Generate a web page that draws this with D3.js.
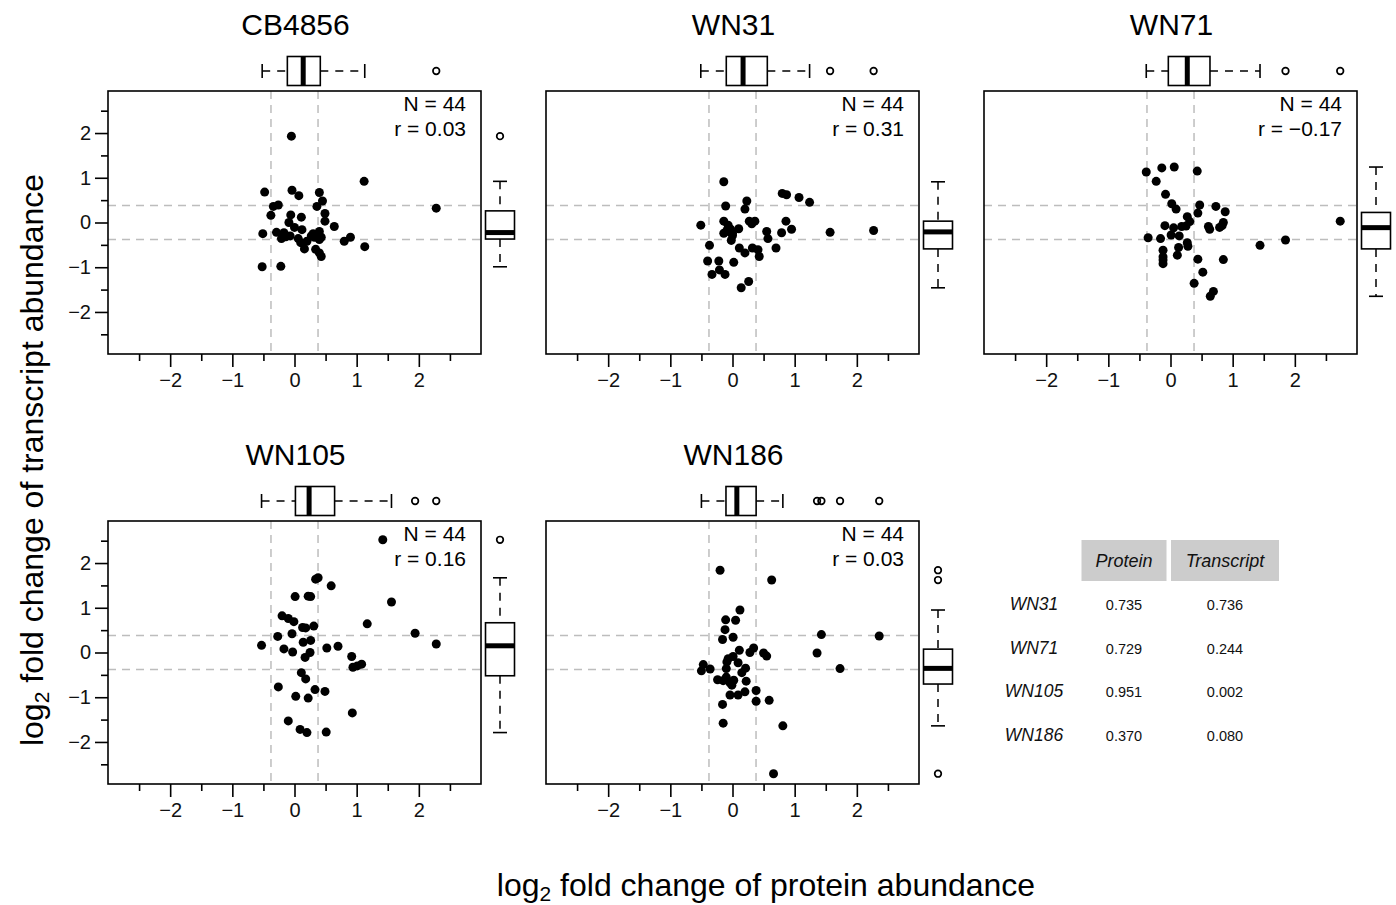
<!DOCTYPE html>
<html>
<head>
<meta charset="utf-8">
<script src="https://cdn.jsdelivr.net/npm/d3@7"></script>
<style>
  body { margin: 0; background: #fff; }
  svg { font-family: "Liberation Sans", Arial, sans-serif; }
</style>
</head>
<body>
<div id="canvas"></div>
<script>
// ---- DATA ----
var strains = ['CB4856', 'WN31', 'WN71', 'WN105', 'WN186'];
var corrR = ['0.03', '0.31', '\u22120.17', '0.16', '0.03'];

// [protein log2FC, transcript log2FC]
var ptsCB4856 = [
  [-0.05,1.93],[1.12,0.92],[2.28,0.32],[-0.48,0.68],[-0.04,0.72],[0.07,0.60],[0.40,0.67],[0.45,0.48],
  [0.36,0.36],[-0.34,0.36],[-0.26,0.39],[-0.38,0.16],[-0.06,0.17],[0.11,0.12],[0.49,0.20],[0.49,0.03],
  [-0.09,0.00],[0.00,-0.11],[0.12,-0.16],[0.64,-0.09],[-0.51,-0.25],[-0.29,-0.22],[-0.17,-0.23],[-0.21,-0.36],
  [-0.07,-0.30],[0.06,-0.36],[0.10,-0.45],[0.16,-0.59],[0.27,-0.30],[0.32,-0.33],[0.40,-0.20],[0.43,-0.33],
  [0.40,-0.38],[0.34,-0.60],[0.40,-0.68],[0.43,-0.76],[0.80,-0.42],[0.90,-0.33],[1.13,-0.54],[-0.52,-0.99],
  [-0.22,-0.98],[0.30,-0.25],[0.20,-0.42],[-0.14,-0.32]
];
var ptsWN31 = [
  [-0.14,0.91],[0.80,0.65],[0.87,0.62],[1.07,0.56],[1.24,0.45],[-0.11,0.37],[0.23,0.48],[0.20,0.30],
  [-0.51,-0.06],[-0.14,0.03],[0.27,0.03],[0.36,0.03],[0.31,-0.03],[0.86,0.03],[0.95,-0.15],[0.55,-0.20],
  [0.79,-0.23],[0.57,-0.36],[0.10,-0.14],[-0.03,-0.15],[-0.09,-0.18],[-0.14,-0.24],[0.00,-0.24],[-0.02,-0.40],
  [-0.37,-0.51],[0.11,-0.57],[0.20,-0.68],[0.32,-0.57],[0.41,-0.61],[0.43,-0.76],[0.70,-0.57],[1.57,-0.22],
  [2.27,-0.18],[-0.40,-0.86],[-0.22,-0.86],[0.02,-0.89],[-0.21,-1.06],[-0.33,-1.16],[-0.12,-1.16],[0.14,-1.46],
  [0.26,-1.32],[-0.06,-0.20],[0.00,-0.29],[-0.07,-0.06]
];
var ptsWN71 = [
  [-0.39,1.13],[-0.14,1.22],[0.06,1.24],[0.43,1.15],[-0.23,0.92],[-0.08,0.63],[0.02,0.42],[0.09,0.30],
  [0.47,0.39],[0.44,0.21],[0.73,0.36],[0.88,0.24],[0.27,0.13],[0.31,0.02],[-0.09,-0.07],[0.05,-0.12],
  [0.18,-0.09],[0.25,-0.08],[0.61,-0.09],[0.63,-0.15],[0.79,-0.11],[0.85,0.00],[0.83,-0.07],[2.73,0.03],
  [-0.36,-0.34],[-0.16,-0.36],[0.01,-0.28],[0.14,-0.30],[0.27,-0.45],[0.28,-0.53],[0.13,-0.56],[-0.12,-0.62],
  [-0.12,-0.77],[-0.12,-0.92],[0.11,-0.73],[1.44,-0.51],[1.85,-0.39],[0.44,-0.82],[0.85,-0.83],[0.52,-1.11],
  [0.38,-1.36],[0.69,-1.54],[0.64,-1.65],[-0.12,-0.84]
];
var ptsWN105 = [
  [1.42,2.52],[0.34,1.64],[0.38,1.67],[0.59,1.49],[0.01,1.25],[0.22,1.26],[0.26,1.25],[1.56,1.13],
  [-0.20,0.82],[-0.10,0.76],[-0.01,0.69],[0.13,0.56],[0.18,0.55],[0.31,0.59],[1.17,0.64],[-0.04,0.42],
  [-0.27,0.36],[1.94,0.43],[-0.53,0.16],[0.14,0.23],[0.26,0.27],[-0.17,0.08],[-0.03,0.01],[0.25,0.00],
  [0.17,-0.11],[0.52,0.10],[0.70,0.14],[2.28,0.19],[0.92,-0.09],[0.94,-0.33],[1.01,-0.30],[1.08,-0.26],
  [0.11,-0.45],[0.18,-0.59],[-0.26,-0.77],[0.33,-0.83],[0.49,-0.87],[0.02,-0.98],[0.22,-1.02],[0.93,-1.35],
  [-0.10,-1.53],[0.09,-1.72],[0.20,-1.79],[0.51,-1.78]
];
var ptsWN186 = [
  [-0.20,1.84],[0.63,1.62],[0.12,0.95],[-0.11,0.73],[0.05,0.72],[-0.12,0.51],[-0.16,0.29],[0.01,0.34],
  [1.43,0.40],[2.36,0.37],[0.11,0.05],[0.28,0.00],[0.34,0.10],[0.50,-0.01],[0.55,-0.08],[1.36,-0.01],
  [0.01,-0.09],[-0.09,-0.21],[0.09,-0.23],[0.21,-0.35],[0.15,-0.45],[-0.47,-0.27],[-0.50,-0.41],[-0.36,-0.37],
  [-0.10,-0.36],[1.73,-0.36],[-0.24,-0.61],[-0.15,-0.63],[-0.04,-0.68],[0.02,-0.62],[-0.01,-0.73],[0.22,-0.64],
  [-0.04,-0.95],[0.09,-0.95],[0.20,-0.88],[0.38,-0.85],[0.38,-1.09],[0.59,-1.07],[-0.16,-1.16],[-0.15,-1.58],
  [0.81,-1.64],[0.66,-2.71],[-0.07,-0.14],[-0.10,-0.55]
];
var allPoints = [ptsCB4856, ptsWN31, ptsWN71, ptsWN105, ptsWN186];

var xTicks = [-2, -1, 0, 1, 2];
var xMinor = [-2.5, -1.5, -0.5, 0.5, 1.5, 2.5];
var yTicks = [-2, -1, 0, 1, 2];
var yMinor = [-2.5, -1.5, -0.5, 0.5, 1.5, 2.5];
var cutoff = Math.log2(1.3); // dashed threshold lines

// table
var tableRows = ['WN31', 'WN71', 'WN105', 'WN186'];
var tableCols = ['Protein', 'Transcript'];
var tableProtein = ['0.735', '0.729', '0.951', '0.370'];
var tableTranscript = ['0.736', '0.244', '0.002', '0.080'];


// ---- CONVENTIONS ----
var W = 1396, H = 905;
var pw = 373, ph = 263;
var origin = {x: 108, y: 91};
var colStep = 438, rowStep = 430;

var svg = d3.select('#canvas')
    .append('svg')
    .attr('width', W)
    .attr('height', H);

// ---- SCALES ----
var scaleX = d3.scaleLinear().domain([-3, 3]).range([0, pw]);
var scaleY = d3.scaleLinear().domain([-2.94, 2.94]).range([ph, 0]);

var fmt = d3.format('d');

// R style boxplot stats (Tukey hinges, 1.5 IQR whiskers)
function boxStats(vals){
    var v = vals.slice().sort(d3.ascending);
    var n = v.length;
    var n4 = Math.floor((n + 3) / 2) / 2;
    var idx = [1, n4, (n + 1) / 2, n + 1 - n4, n];
    var fn = idx.map(function(i){ return 0.5 * (v[Math.floor(i) - 1] + v[Math.ceil(i) - 1]); });
    var iqr = fn[3] - fn[1];
    var lo = fn[1] - 1.5 * iqr, hi = fn[3] + 1.5 * iqr;
    var inside = v.filter(function(d){ return d >= lo && d <= hi; });
    return {
        q1: fn[1], med: fn[2], q3: fn[3],
        wlo: d3.min(inside), whi: d3.max(inside),
        out: v.filter(function(d){ return d < lo || d > hi; })
    };
}

allPoints.forEach(function(pts, i){
    var col = i % 3, row = Math.floor(i / 3);
    var g = svg.append('g')
        .attr('transform', 'translate(' + (origin.x + col * colStep) + ',' + (origin.y + row * rowStep) + ')');

    // threshold lines
    [-cutoff, cutoff].forEach(function(c){
        g.append('line')
            .attr('x1', scaleX(c)).attr('x2', scaleX(c))
            .attr('y1', 0).attr('y2', ph)
            .attr('stroke', '#bdbdbd').attr('stroke-width', 1.5)
            .attr('stroke-dasharray', '8,6');
        g.append('line')
            .attr('x1', 0).attr('x2', pw)
            .attr('y1', scaleY(c)).attr('y2', scaleY(c))
            .attr('stroke', '#bdbdbd').attr('stroke-width', 1.5)
            .attr('stroke-dasharray', '8,6');
    });

    // points
    g.selectAll('circle.pt')
        .data(pts)
        .enter().append('circle')
        .attr('class', 'pt')
        .attr('cx', function(d){ return scaleX(d[0]); })
        .attr('cy', function(d){ return scaleY(d[1]); })
        .attr('r', 4.5)
        .attr('fill', '#000');

    // frame
    g.append('rect')
        .attr('width', pw).attr('height', ph)
        .attr('fill', 'none').attr('stroke', '#000').attr('stroke-width', 1.6);

    // x axis
    var axX = g.append('g').attr('transform', 'translate(0,' + ph + ')');
    axX.call(d3.axisBottom(scaleX).tickValues(xTicks).tickSize(13).tickPadding(6).tickFormat(fmt));
    axX.append('g').call(d3.axisBottom(scaleX).tickValues(xMinor).tickSize(7).tickFormat(''));
    axX.selectAll('.domain').remove();
    axX.selectAll('line').attr('stroke-width', 1.6);
    axX.selectAll('text').attr('font-size', 20).attr('fill', '#111');

    // y axis only on the first column
    if (col === 0) {
        var axY = g.append('g');
        axY.call(d3.axisLeft(scaleY).tickValues(yTicks).tickSize(13).tickPadding(4).tickFormat(fmt));
        axY.append('g').call(d3.axisLeft(scaleY).tickValues(yMinor).tickSize(7).tickFormat(''));
        axY.selectAll('.domain').remove();
        axY.selectAll('line').attr('stroke-width', 1.6);
        axY.selectAll('text').attr('font-size', 20).attr('fill', '#111');
    }

    // panel title
    g.append('text')
        .attr('x', pw / 2 + 1).attr('y', -56)
        .attr('text-anchor', 'middle')
        .attr('font-size', 30)
        .text(strains[i]);

    // N and r
    g.append('text')
        .attr('x', pw - 15).attr('y', 20)
        .attr('text-anchor', 'end').attr('font-size', 21)
        .text('N = ' + pts.length);
    g.append('text')
        .attr('x', pw - 15).attr('y', 45)
        .attr('text-anchor', 'end').attr('font-size', 21)
        .text('r = ' + corrR[i]);

    // marginal boxplots
    var bw = 29, staple = 14;
    var dash = '8,7';

    // top: protein
    var sx = boxStats(pts.map(function(d){ return d[0]; }));
    var cy = -20;
    var top = g.append('g');
    top.append('line')
        .attr('x1', scaleX(sx.wlo)).attr('x2', scaleX(sx.q1))
        .attr('y1', cy).attr('y2', cy)
        .attr('stroke', '#000').attr('stroke-width', 1.5).attr('stroke-dasharray', dash);
    top.append('line')
        .attr('x1', scaleX(sx.q3)).attr('x2', scaleX(sx.whi))
        .attr('y1', cy).attr('y2', cy)
        .attr('stroke', '#000').attr('stroke-width', 1.5).attr('stroke-dasharray', dash);
    [sx.wlo, sx.whi].forEach(function(v){
        top.append('line')
            .attr('x1', scaleX(v)).attr('x2', scaleX(v))
            .attr('y1', cy - staple / 2).attr('y2', cy + staple / 2)
            .attr('stroke', '#000').attr('stroke-width', 1.6);
    });
    top.append('rect')
        .attr('x', scaleX(sx.q1)).attr('y', cy - bw / 2)
        .attr('width', scaleX(sx.q3) - scaleX(sx.q1)).attr('height', bw)
        .attr('fill', '#fff').attr('stroke', '#000').attr('stroke-width', 1.6);
    top.append('line')
        .attr('x1', scaleX(sx.med)).attr('x2', scaleX(sx.med))
        .attr('y1', cy - bw / 2).attr('y2', cy + bw / 2)
        .attr('stroke', '#000').attr('stroke-width', 5);
    top.selectAll('circle')
        .data(sx.out).enter().append('circle')
        .attr('cx', function(d){ return scaleX(d); }).attr('cy', cy)
        .attr('r', 3.3).attr('fill', 'none').attr('stroke', '#000').attr('stroke-width', 1.7);

    // right: transcript
    var sy = boxStats(pts.map(function(d){ return d[1]; }));
    var cx = pw + 19;
    var side = g.append('g');
    side.append('line')
        .attr('x1', cx).attr('x2', cx)
        .attr('y1', scaleY(sy.whi)).attr('y2', scaleY(sy.q3))
        .attr('stroke', '#000').attr('stroke-width', 1.5).attr('stroke-dasharray', dash);
    side.append('line')
        .attr('x1', cx).attr('x2', cx)
        .attr('y1', scaleY(sy.q1)).attr('y2', scaleY(sy.wlo))
        .attr('stroke', '#000').attr('stroke-width', 1.5).attr('stroke-dasharray', dash);
    [sy.wlo, sy.whi].forEach(function(v){
        side.append('line')
            .attr('x1', cx - staple / 2).attr('x2', cx + staple / 2)
            .attr('y1', scaleY(v)).attr('y2', scaleY(v))
            .attr('stroke', '#000').attr('stroke-width', 1.6);
    });
    side.append('rect')
        .attr('x', cx - bw / 2).attr('y', scaleY(sy.q3))
        .attr('width', bw).attr('height', scaleY(sy.q1) - scaleY(sy.q3))
        .attr('fill', '#fff').attr('stroke', '#000').attr('stroke-width', 1.6);
    side.append('line')
        .attr('x1', cx - bw / 2).attr('x2', cx + bw / 2)
        .attr('y1', scaleY(sy.med)).attr('y2', scaleY(sy.med))
        .attr('stroke', '#000').attr('stroke-width', 5);
    side.selectAll('circle')
        .data(sy.out).enter().append('circle')
        .attr('cx', cx).attr('cy', function(d){ return scaleY(d); })
        .attr('r', 3.3).attr('fill', 'none').attr('stroke', '#000').attr('stroke-width', 1.7);
});

// ---- AXIS TITLES ----
var xTitle = svg.append('text')
    .attr('x', 766).attr('y', 896)
    .attr('text-anchor', 'middle').attr('font-size', 32);
xTitle.append('tspan').text('log');
xTitle.append('tspan').attr('font-size', 21).attr('dy', 5).text('2');
xTitle.append('tspan').attr('dy', -5).text(' fold change of protein abundance');

var yTitle = svg.append('text')
    .attr('transform', 'translate(43,460) rotate(-90)')
    .attr('text-anchor', 'middle').attr('font-size', 32);
yTitle.append('tspan').text('log');
yTitle.append('tspan').attr('font-size', 21).attr('dy', 6).text('2');
yTitle.append('tspan').attr('dy', -6).text(' fold change of transcript abundance');

// ---- TABLE ----
var tbl = svg.append('g');
var colX = [1124, 1225];
var colW = [85, 108];
tableCols.forEach(function(c, j){
    tbl.append('rect')
        .attr('x', colX[j] - colW[j] / 2).attr('y', 540)
        .attr('width', colW[j]).attr('height', 41)
        .attr('fill', '#cccccc');
    tbl.append('text')
        .attr('x', colX[j]).attr('y', 567)
        .attr('text-anchor', 'middle').attr('font-size', 18)
        .attr('font-style', 'italic').attr('fill', '#111')
        .text(c);
});
tableRows.forEach(function(r, k){
    var yy = 610 + k * 43.7;
    tbl.append('text')
        .attr('x', 1034).attr('y', yy)
        .attr('text-anchor', 'middle').attr('font-size', 17.5)
        .attr('font-style', 'italic').attr('fill', '#111')
        .text(r);
    tbl.append('text')
        .attr('x', colX[0]).attr('y', yy)
        .attr('text-anchor', 'middle').attr('font-size', 14.5).attr('fill', '#111')
        .text(tableProtein[k]);
    tbl.append('text')
        .attr('x', colX[1]).attr('y', yy)
        .attr('text-anchor', 'middle').attr('font-size', 14.5).attr('fill', '#111')
        .text(tableTranscript[k]);
});
</script>
</body>
</html>
